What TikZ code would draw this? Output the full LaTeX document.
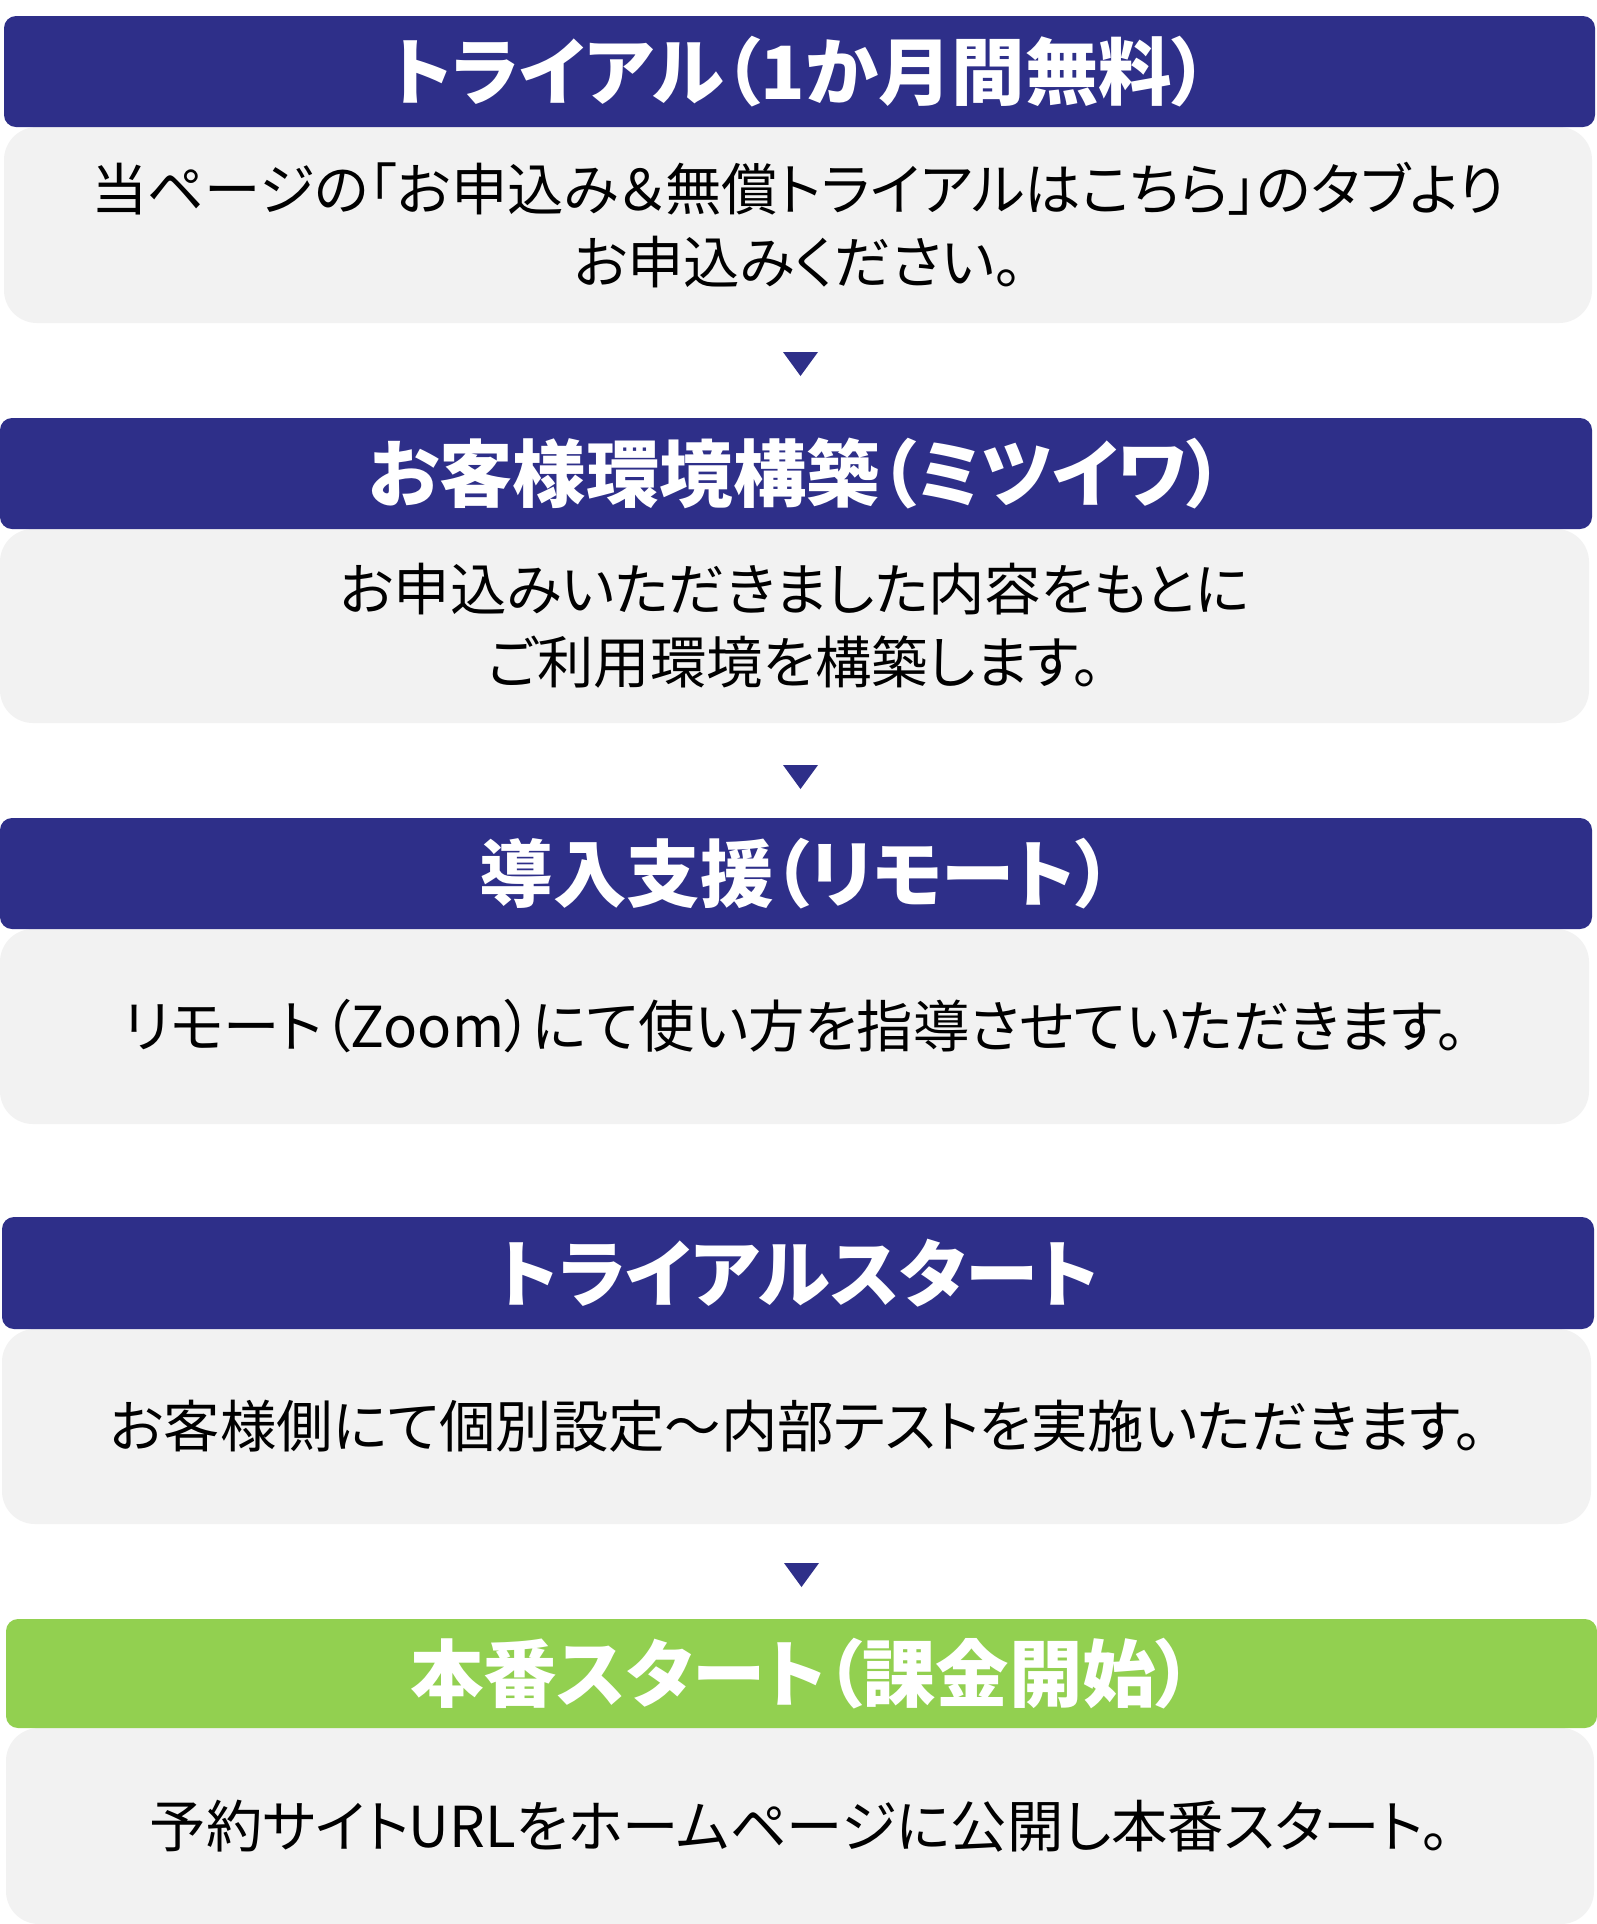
\documentclass[tikz,border=0pt]{standalone}
\usepackage{fontspec}
\newfontfamily\jp{Noto Sans CJK JP}[RawFeature=+palt]
\definecolor{navy}{RGB}{46,47,137}
\definecolor{leaf}{RGB}{146,208,80}
\definecolor{pale}{RGB}{242,242,242}
\begin{document}
\begin{tikzpicture}[x=0.5pt, y=-0.5pt,
		headtxt/.style={text=white, font=\jp\bfseries\fontsize{36.7pt}{42pt}\selectfont, inner sep=0pt},
		bodytxt/.style={text=black, font=\jp\fontsize{28.2pt}{36.5pt}\selectfont, align=center, inner sep=0pt}]
		\useasboundingbox[fill=white] (0,0) rectangle (1597,1924);
		\foreach \n/\xl/\xr/\yt/\yh/\yb/\hcol/\htext/\btext in {
			1/4/1595/16/127/323/navy/{トライアル（1か月間無料）}/{当ページの「お申込み＆無償トライアルはこちら」のタブより\\お申込みください。},
			2/0/1592/418/529/723/navy/{お客様環境構築（ミツイワ）}/{お申込みいただきました内容をもとに\\ご利用環境を構築します。},
			3/0/1592/818/929/1124/navy/{導入支援（リモート）}/{リモート（Zoom）にて使い方を指導させていただきます。},
			4/2/1594/1217/1329/1524/navy/{トライアルスタート}/{お客様側にて個別設定～内部テストを実施いただきます。},
			5/6/1597/1619/1728/1924/leaf/{本番スタート（課金開始）}/{予約サイトURLをホームページに公開し本番スタート。}}
		{
			\fill[pale, rounded corners=16.5pt] (\xl, \yh) rectangle (\xr - 3, \yb);
			\fill[\hcol, rounded corners=6pt] (\xl, \yt) rectangle (\xr, \yh);
			\node[headtxt] (head\n) at ({(\xl + \xr)/2}, {(\yt + \yh)/2}) {\htext};
			\node[bodytxt] (body\n) at ({(\xl + \xr - 3)/2}, {(\yh + \yb)/2}) {\btext};
		}
		\foreach \a/\ax/\ay in {1/800.5/364, 2/800.5/777, 3/801.5/1575}
		{
			\coordinate (arr\a) at (\ax, \ay);
			\fill[navy] (arr\a) ++(-17.5, -12) -- ++(35, 0) -- ++(-17.5, 24) -- cycle;
		}
	\end{tikzpicture}
\end{document}
